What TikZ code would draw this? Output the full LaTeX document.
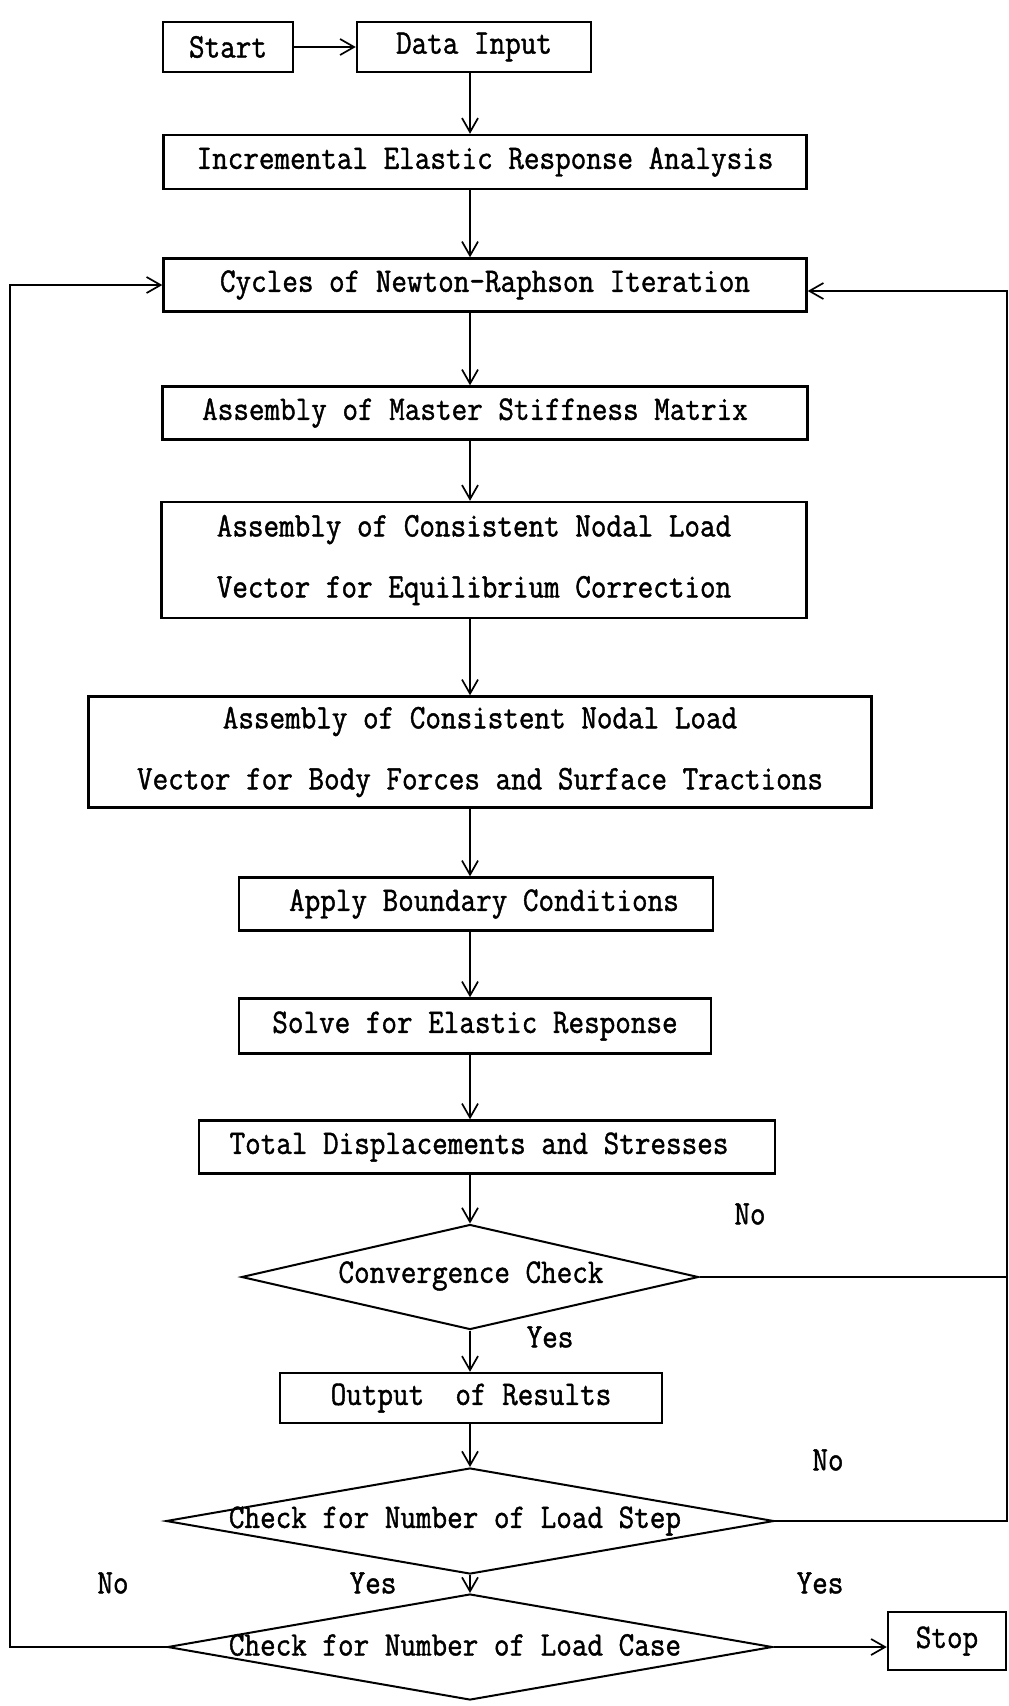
\documentclass[tikz,border=0pt]{standalone}
\usepackage{fontspec}
\newfontfamily\twfont{Latin Modern Mono}[FakeBold=1.2,FakeStretch=0.88]
\usetikzlibrary{arrows.meta,shapes.geometric}
\begin{document}
\begin{tikzpicture}[x=1pt,y=-1pt,
  every node/.style={font=\fontsize{34.4}{61}\selectfont\twfont},
  box/.style={draw,line width=2.4pt,inner sep=0pt,align=center},
  dia/.style={draw,diamond,line width=2pt,inner sep=0pt,aspect=4},
  arr/.style={line width=1.7pt,-{Straight Barb[length=14pt,width=16pt,line width=1.7pt]}},
  ln/.style={line width=1.7pt},
  lab/.style={inner sep=0pt}]
\useasboundingbox (0,0) rectangle (1009,1706);
\fill[white] (0,0) rectangle (1009,1706);
% boxes
\node[box,minimum width=130pt,minimum height=50pt] (start) at (228,47) {Start};
\node[box,minimum width=234pt,minimum height=50pt] (data) at (474,47) {Data Input};
\node[box,minimum width=643pt,minimum height=54pt] (inc) at (485,162) {Incremental Elastic Response Analysis};
\node[box,minimum width=643pt,minimum height=53pt] (cyc) at (485,285) {Cycles of Newton-Raphson Iteration};
\node[box,minimum width=645pt,minimum height=53pt] (mas) at (485,413) {Assembly of Master Stiffness Matrix\hspace*{20pt}};
\node[box,minimum width=645pt,minimum height=116pt] (eq) at (484,560) {Assembly of Consistent Nodal Load\hspace*{20pt}\\Vector for Equilibrium Correction\hspace*{20pt}};
\node[box,minimum width=783pt,minimum height=111pt] (body) at (480,752) {Assembly of Consistent Nodal Load\\Vector for Body Forces and Surface Tractions};
\node[box,minimum width=474pt,minimum height=53pt] (apply) at (476,904) {\hspace*{16pt}Apply Boundary Conditions};
\node[box,minimum width=472pt,minimum height=55pt] (solve) at (475,1026) {Solve for Elastic Response};
\node[box,minimum width=576pt,minimum height=53pt] (total) at (487,1147) {Total Displacements and Stresses\hspace*{16pt}};
\node[dia,minimum width=457pt,minimum height=105pt] (conv) at (470,1277) {};
\node[lab] (convt) at (471,1276) {Convergence Check};
\node[box,minimum width=382pt,minimum height=50pt] (output) at (471,1398) {Output\ \ of Results};
\node[dia,minimum width=608pt,minimum height=106pt] (step) at (470,1521) {};
\node[lab] (stept) at (455,1521) {Check for Number of Load Step};
\node[dia,minimum width=605pt,minimum height=106pt] (case) at (470,1647) {};
\node[lab] (caset) at (455,1645) {Check for Number of Load Case};
\node[box,minimum width=118pt,minimum height=58pt] (stop) at (947,1641) {Stop};
% labels
\node[lab] (no1) at (750,1214) {No};
\node[lab] (yes1) at (550,1337) {Yes};
\node[lab] (no2) at (828,1460) {No};
\node[lab] (no3) at (113,1583) {No};
\node[lab] (yes2) at (373,1583) {Yes};
\node[lab] (yes3) at (820,1583) {Yes};
% connectors
\coordinate (sp) at (470,0);
\coordinate (rt) at (1007,291);
\coordinate (lt) at (10,285);
\draw[arr] (start) -- (data);
\draw[arr] (data.south -| sp) -- (inc.north -| sp);
\draw[arr] (inc.south -| sp) -- (cyc.north -| sp);
\draw[arr] (cyc.south -| sp) -- (mas.north -| sp);
\draw[arr] (mas.south -| sp) -- (eq.north -| sp);
\draw[arr] (eq.south -| sp) -- (body.north -| sp);
\draw[arr] (body.south -| sp) -- (apply.north -| sp);
\draw[arr] (apply.south -| sp) -- (solve.north -| sp);
\draw[arr] (solve.south -| sp) -- (total.north -| sp);
\draw[arr] (total.south -| sp) -- (conv.north);
\draw[arr] (conv.south) -- (output.north -| sp);
\draw[arr] (output.south -| sp) -- (step.north);
\draw[arr] (step.south) -- (case.north);
\draw[arr] (step.east) -| (rt) -- (cyc.east |- rt);
\draw[ln] (conv.east) -- (conv.east -| rt);
\draw[arr] (case.west) -| (lt) -- (cyc.west);
\draw[arr] (case.east) -- (case.east -| stop.west);
\end{tikzpicture}
\end{document}
